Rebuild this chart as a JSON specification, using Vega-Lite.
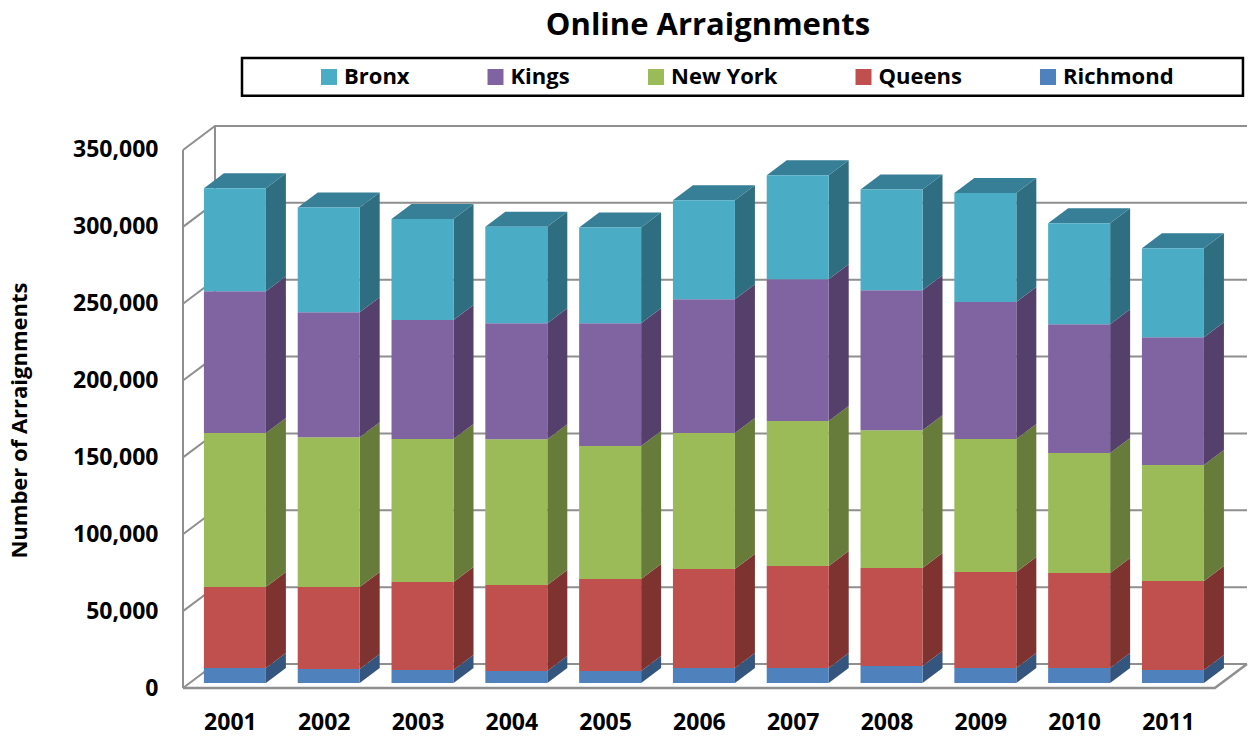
{
"$schema":"https://vega.github.io/schema/vega-lite/v6.json",
"width":1064,"height":562,
"autosize":{"type":"none"},
"padding":{"left":183,"top":126,"right":1,"bottom":48},
"background":"white",
"config":{"view":{"stroke":null},
 "axisX":{"grid":false,"domain":false,"ticks":false,"labelFont":"Open Sans","labelFontWeight":"bold","labelFontSize":23,"labelColor":"#000000","labelPadding":34,"labelBaseline":"middle","labelFlush":false},
 "axisY":{"grid":false,"domain":false,"ticks":false,"labelFont":"Open Sans","labelFontWeight":"bold","labelFontSize":23,"labelColor":"#000000","labelPadding":25,"titleFont":"Open Sans","titleFontWeight":"bold","titleFontSize":22,"titleColor":"#000000","titleX":-152,"titleY":294,"titleAnchor":"middle"}},
"title":{"text":"Online Arraignments","font":"Open Sans","fontSize":31,"fontWeight":"bold","color":"#000000","anchor":"middle","dx":-7,"offset":15},
"datasets":{
"ticks":[{"tick":50000},{"tick":100000},{"tick":150000},{"tick":200000},{"tick":250000},{"tick":300000},{"tick":350000},{"tick":0}],
"counts":[
{"year":2001,"borough":"Richmond","value":9800},{"year":2001,"borough":"Queens","value":52700},{"year":2001,"borough":"New York","value":100100},{"year":2001,"borough":"Kings","value":92300},{"year":2001,"borough":"Bronx","value":66900},
{"year":2002,"borough":"Richmond","value":9100},{"year":2002,"borough":"Queens","value":53300},{"year":2002,"borough":"New York","value":97500},{"year":2002,"borough":"Kings","value":81300},{"year":2002,"borough":"Bronx","value":68200},
{"year":2003,"borough":"Richmond","value":8500},{"year":2003,"borough":"Queens","value":57200},{"year":2003,"borough":"New York","value":93000},{"year":2003,"borough":"Kings","value":77400},{"year":2003,"borough":"Bronx","value":65700},
{"year":2004,"borough":"Richmond","value":7800},{"year":2004,"borough":"Queens","value":55900},{"year":2004,"borough":"New York","value":94900},{"year":2004,"borough":"Kings","value":75400},{"year":2004,"borough":"Bronx","value":62800},
{"year":2005,"borough":"Richmond","value":7800},{"year":2005,"borough":"Queens","value":59800},{"year":2005,"borough":"New York","value":86500},{"year":2005,"borough":"Kings","value":80000},{"year":2005,"borough":"Bronx","value":62200},
{"year":2006,"borough":"Richmond","value":9800},{"year":2006,"borough":"Queens","value":64400},{"year":2006,"borough":"New York","value":88400},{"year":2006,"borough":"Kings","value":87100},{"year":2006,"borough":"Bronx","value":64300},
{"year":2007,"borough":"Richmond","value":9800},{"year":2007,"borough":"Queens","value":66300},{"year":2007,"borough":"New York","value":94300},{"year":2007,"borough":"Kings","value":92300},{"year":2007,"borough":"Bronx","value":67600},
{"year":2008,"borough":"Richmond","value":11100},{"year":2008,"borough":"Queens","value":63700},{"year":2008,"borough":"New York","value":89700},{"year":2008,"borough":"Kings","value":91000},{"year":2008,"borough":"Bronx","value":65600},
{"year":2009,"borough":"Richmond","value":9800},{"year":2009,"borough":"Queens","value":62400},{"year":2009,"borough":"New York","value":86500},{"year":2009,"borough":"Kings","value":89100},{"year":2009,"borough":"Bronx","value":70900},
{"year":2010,"borough":"Richmond","value":9800},{"year":2010,"borough":"Queens","value":61800},{"year":2010,"borough":"New York","value":78000},{"year":2010,"borough":"Kings","value":83800},{"year":2010,"borough":"Bronx","value":65700},
{"year":2011,"borough":"Richmond","value":8500},{"year":2011,"borough":"Queens","value":57900},{"year":2011,"borough":"New York","value":75400},{"year":2011,"borough":"Kings","value":83200},{"year":2011,"borough":"Bronx","value":57900}
]},
"layer":[
{"data":{"name":"ticks"},
 "transform":[{"calculate":"[0,1,2]","as":"pt"},{"flatten":["pt"]},
  {"calculate":"datum.pt==0?2000.5:(datum.pt==1?2000.841:2011.843)","as":"gx"},
  {"calculate":"datum.tick+(datum.pt>0?15600:0)","as":"gy"}],
 "mark":{"type":"line","color":"#8f8f8f","strokeWidth":2},
 "encoding":{
  "x":{"field":"gx","type":"quantitative","scale":{"domain":[2000.5,2011.843],"nice":false,"zero":false},"axis":{"values":[2001,2002,2003,2004,2005,2006,2007,2008,2009,2010,2011],"format":"d","title":null}},
  "y":{"field":"gy","type":"quantitative","scale":{"domain":[0,365600],"nice":false},"axis":{"values":[0,50000,100000,150000,200000,250000,300000,350000],"format":",d","title":"Number of Arraignments"}},
  "detail":{"field":"tick","type":"quantitative"}}},
{"data":{"values":[{"edge":"front","ex":2000.5,"ey":0},{"edge":"front","ex":2000.5,"ey":350000},{"edge":"back","ex":2000.841,"ey":15600},{"edge":"back","ex":2000.841,"ey":365600}]},
 "mark":{"type":"line","color":"#8f8f8f","strokeWidth":2},
 "encoding":{
  "x":{"field":"ex","type":"quantitative","axis":{"values":[2001,2002,2003,2004,2005,2006,2007,2008,2009,2010,2011],"format":"d","title":null}},
  "y":{"field":"ey","type":"quantitative","axis":{"values":[0,50000,100000,150000,200000,250000,300000,350000],"format":",d","title":"Number of Arraignments"}},
  "detail":{"field":"edge","type":"nominal"},
  "order":{"field":"ey","type":"quantitative"}}},
{"data":{"values":[{"fx":2000.5,"fy":0},{"fx":2011.5,"fy":0},{"fx":2011.843,"fy":15600}]},
 "mark":{"type":"line","color":"#8f8f8f","strokeWidth":2.5},
 "encoding":{
  "x":{"field":"fx","type":"quantitative","axis":{"values":[2001,2002,2003,2004,2005,2006,2007,2008,2009,2010,2011],"format":"d","title":null}},
  "y":{"field":"fy","type":"quantitative","axis":{"values":[0,50000,100000,150000,200000,250000,300000,350000],"format":",d","title":"Number of Arraignments"}}}},
{"data":{"values":[{"bx0":2001.129,"bx1":2011.8,"by0":385200,"by1":409900}]},
 "mark":{"type":"rect","fill":"white","stroke":"#000000","strokeWidth":2.5},
 "encoding":{
  "x":{"field":"bx0","type":"quantitative","axis":{"values":[2001,2002,2003,2004,2005,2006,2007,2008,2009,2010,2011],"format":"d","title":null}},"x2":{"field":"bx1"},
  "y":{"field":"by0","type":"quantitative","axis":{"values":[0,50000,100000,150000,200000,250000,300000,350000],"format":",d","title":"Number of Arraignments"}},"y2":{"field":"by1"}}},
{"data":{"name":"counts"},
 "transform":[
  {"calculate":"indexof(['Richmond','Queens','New York','Kings','Bronx'],datum.borough)","as":"rank"},
  {"stack":"value","groupby":["year"],"sort":[{"field":"rank","order":"ascending"}],"as":["y0","y1"]},
  {"calculate":"datum.year+0.384","as":"fx1"},
  {"calculate":"datum.y0+3250","as":"fy0"},
  {"calculate":"datum.y1+3250","as":"fy1"},
  {"calculate":"[0,1]","as":"pt"},{"flatten":["pt"]},
  {"calculate":"datum.fx1+datum.pt*0.213","as":"sx"},
  {"calculate":"datum.fy0+datum.pt*9760","as":"slo"},
  {"calculate":"datum.fy1+datum.pt*9760","as":"shi"}],
 "mark":{"type":"area","opacity":1},
 "encoding":{
  "x":{"field":"sx","type":"quantitative","axis":{"values":[2001,2002,2003,2004,2005,2006,2007,2008,2009,2010,2011],"format":"d","title":null}},
  "y":{"field":"slo","type":"quantitative","stack":null,"axis":{"values":[0,50000,100000,150000,200000,250000,300000,350000],"format":",d","title":"Number of Arraignments"}},
  "y2":{"field":"shi"},
  "detail":{"field":"year","type":"quantitative"},
  "color":{"field":"borough","type":"nominal","legend":null,
   "scale":{"domain":["Bronx","Kings","New York","Queens","Richmond"],"range":["#2f6d81","#54406b","#677b3a","#7f3331","#34557d"]}}}},
{"data":{"name":"counts"},
 "transform":[
  {"calculate":"indexof(['Richmond','Queens','New York','Kings','Bronx'],datum.borough)","as":"rank"},
  {"stack":"value","groupby":["year"],"sort":[{"field":"rank","order":"ascending"}],"as":["y0","y1"]},
  {"calculate":"datum.year-0.277","as":"fx0"},
  {"calculate":"datum.year+0.384","as":"fx1"},
  {"calculate":"datum.y1+3250","as":"fy1"},
  {"filter":"datum.borough=='Bronx'"},
  {"calculate":"[0,1,2,3]","as":"pt"},{"flatten":["pt"]},
  {"calculate":"datum.pt==0?datum.fx0:(datum.pt==1?datum.fx0+0.213:(datum.pt==2?datum.fx1:datum.fx1+0.213))","as":"tx"},
  {"calculate":"datum.fy1+(datum.pt==3?9760:0)","as":"tlo"},
  {"calculate":"datum.fy1+(datum.pt==0?0:9760)","as":"thi"}],
 "mark":{"type":"area","color":"#367f96","opacity":1},
 "encoding":{
  "x":{"field":"tx","type":"quantitative","axis":{"values":[2001,2002,2003,2004,2005,2006,2007,2008,2009,2010,2011],"format":"d","title":null}},
  "y":{"field":"tlo","type":"quantitative","stack":null,"axis":{"values":[0,50000,100000,150000,200000,250000,300000,350000],"format":",d","title":"Number of Arraignments"}},
  "y2":{"field":"thi"},
  "detail":{"field":"year","type":"quantitative"}}},
{"data":{"name":"counts"},
 "transform":[
  {"calculate":"indexof(['Richmond','Queens','New York','Kings','Bronx'],datum.borough)","as":"rank"},
  {"stack":"value","groupby":["year"],"sort":[{"field":"rank","order":"ascending"}],"as":["y0","y1"]},
  {"calculate":"datum.year-0.277","as":"fx0"},
  {"calculate":"datum.year+0.384","as":"fx1"},
  {"calculate":"datum.y0+3250","as":"fy0"},
  {"calculate":"datum.y1+3250","as":"fy1"}],
 "mark":{"type":"rect"},
 "encoding":{
  "x":{"field":"fx0","type":"quantitative","axis":{"values":[2001,2002,2003,2004,2005,2006,2007,2008,2009,2010,2011],"format":"d","title":null}},
  "x2":{"field":"fx1"},
  "y":{"field":"fy0","type":"quantitative","axis":{"values":[0,50000,100000,150000,200000,250000,300000,350000],"format":",d","title":"Number of Arraignments"}},
  "y2":{"field":"fy1"},
  "color":{"field":"borough","type":"nominal",
   "scale":{"domain":["Bronx","Kings","New York","Queens","Richmond"],"range":["#4bacc6","#8064a2","#9bbb59","#c0504d","#4f81bd"]},
   "legend":{"orient":"none","legendX":135,"legendY":-60,"direction":"horizontal","columns":5,"title":null,"symbolType":"square","symbolSize":256,"symbolStrokeWidth":0,"labelFont":"Open Sans","labelFontWeight":"bold","labelFontSize":22,"labelColor":"#000000","labelOffset":4,"columnPadding":74.5,"padding":0}}}}
],
"resolve":{"scale":{"color":"independent"}}
}
